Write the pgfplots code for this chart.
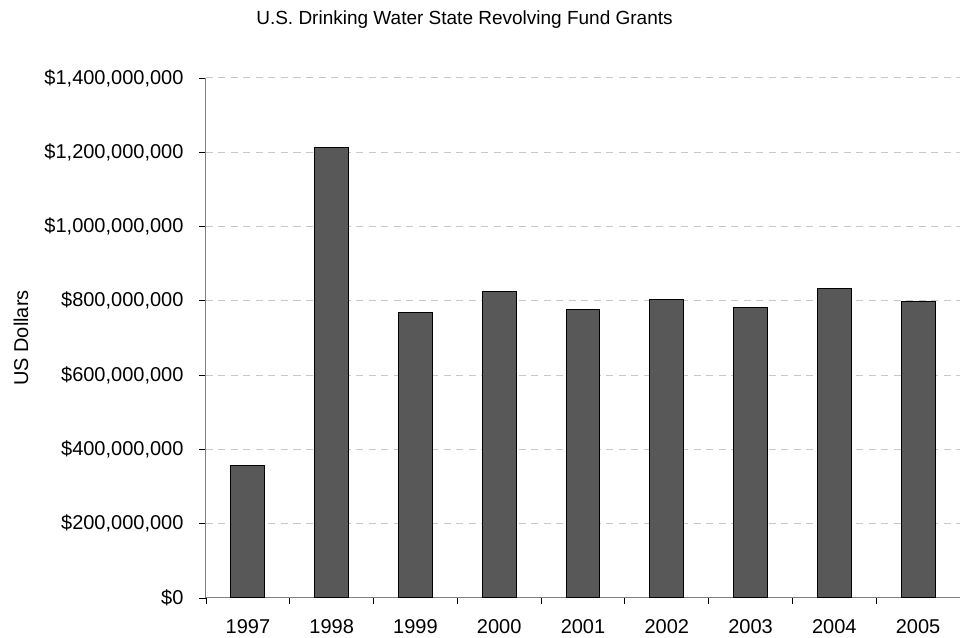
\documentclass[border=0pt]{standalone}
\usepackage{pgfplots}
\pgfplotsset{compat=1.18}
\usepackage{fontspec}
\setmainfont{Liberation Sans}
\definecolor{barfill}{HTML}{585858}
\definecolor{gridgray}{HTML}{C8C8C8}
\definecolor{axisgray}{HTML}{808080}
\begin{document}
\begin{tikzpicture}[x=1bp,y=1bp]
\path[use as bounding box] (-206,-40) rectangle (754,598);
\begin{axis}[
  at={(0,0)}, anchor=origin,
  scale only axis,
  width=754bp, height=520bp,
  xmin=0, xmax=9,
  ymin=0, ymax=1400000000,
  axis x line*=bottom, axis y line*=left,
  axis line style={axisgray, line width=1bp},
  xtick={0.5,1.5,...,8.5},
  xticklabels={1997,1998,1999,2000,2001,2002,2003,2004,2005},
  major x tick style={draw=none},
  minor xtick={0,1,...,9},
  minor x tick style={black, line width=0.8bp},
  minor tick length=6bp,
  ytick={0,200000000,...,1400000000},
  yticklabels={{\$0},{\$200,000,000},{\$400,000,000},{\$600,000,000},{\$800,000,000},{\$1,000,000,000},{\$1,200,000,000},{\$1,400,000,000}},
  major y tick style={black, line width=0.8bp},
  major tick length=7bp,
  tick align=outside,
  scaled y ticks=false,
  ymajorgrids,
  major grid style={gridgray, line width=1bp, dash pattern=on 7bp off 5.5bp},
  tick label style={font=\fontsize{20bp}{22bp}\selectfont},
  xticklabel style={yshift=-11bp},
  yticklabel style={xshift=-12bp},
  clip=false,
]
\addplot[ybar, bar width=0.405, fill=barfill, draw=black, line width=1bp] coordinates {
  (0.5, 358000000)
  (1.5, 1214000000)
  (2.5, 769000000)
  (3.5, 826000000)
  (4.5, 776000000)
  (5.5, 803000000)
  (6.5, 782000000)
  (7.5, 834000000)
  (8.5, 799000000)
};
\end{axis}
\node[font=\fontsize{20bp}{22bp}\selectfont, rotate=90, anchor=center] at (-185,260) {US Dollars};
\node[font=\fontsize{19bp}{21bp}\selectfont, anchor=center] at (258.5,578) {U.S. Drinking Water State Revolving Fund Grants};
\end{tikzpicture}
\end{document}
